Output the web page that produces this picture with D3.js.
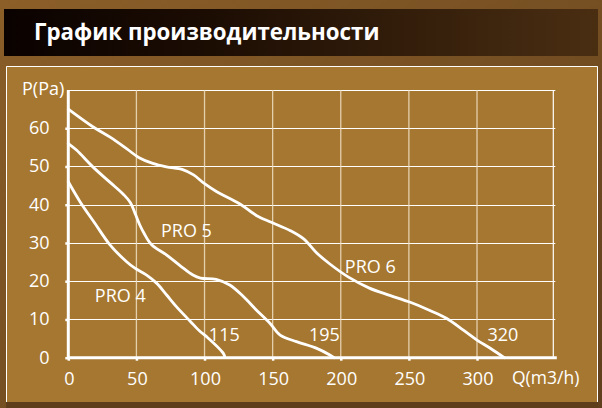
<!DOCTYPE html>
<html>
<head>
<meta charset="utf-8">
<script src="https://cdn.jsdelivr.net/npm/d3@7"></script>
<style>
  html, body { margin: 0; padding: 0; background: #7a5226; }
  svg { display: block; }
  text { font-family: "Open Sans", "Noto Sans", sans-serif; fill: #ffffff; }
</style>
</head>
<body>
<svg id="chart" width="602" height="408"></svg>
<script>
// Fan performance curves: airflow Q (m3/h) vs static pressure P (Pa)
const models = ["PRO 4", "PRO 5", "PRO 6"];
const maxFlow = [115, 195, 320];

const pro4 = [[0,46],[8.6,40.8],[19.6,35.1],[30.6,29.5],[42.8,25.1],[48.9,23.4],[57.5,21.6],[64.8,19.5],[72.2,16.4],[79.5,13.3],[89.3,9.6],[96.6,6.9],[101.5,5.5],[113.7,1.2],[115,0]];
const pro5 = [[0,56],[6,54.3],[18,49.9],[30.5,45.9],[40.5,42.7],[45.5,40.6],[49.5,37.3],[52.5,34.7],[55.5,32.6],[61,29.6],[72,26.9],[82,24.1],[91.5,21.6],[97,20.8],[108.5,20.5],[118.5,19],[128.5,16],[138,12.5],[148,9],[155.5,5.9],[167.5,4.2],[182,2.5],[192,0.7],[195,0]];
const pro6 = [[0,65],[18,60.4],[31,57.6],[43,54.6],[52,52.3],[62,50.8],[72,49.9],[84,49.2],[92,47.8],[100,45.5],[109,43.4],[126,40.2],[138,37.2],[149,35.4],[163,33.2],[173,31],[182,27.5],[192,24.5],[206,21],[221,18.2],[236,16.3],[251,14.5],[265,12.4],[277.5,10.3],[290,7.2],[300,4.6],[310,2.4],[320,0]];

const xTicks = [0, 50, 100, 150, 200, 250, 300];
const yTicks = [0, 10, 20, 30, 40, 50, 60];
const yGrid = [10, 20, 30, 40, 50, 60, 70];

const svg = d3.select("#chart");
const defs = svg.append("defs");

const bgGrad = defs.append("linearGradient").attr("id", "bgGrad")
  .attr("x1", "0").attr("y1", "0").attr("x2", "1").attr("y2", "1");
bgGrad.append("stop").attr("offset", "0").attr("stop-color", "#8c5f28");
bgGrad.append("stop").attr("offset", "1").attr("stop-color", "#5f3f1d");

const titleGrad = defs.append("linearGradient").attr("id", "titleGrad")
  .attr("x1", "0").attr("y1", "0").attr("x2", "1").attr("y2", "0");
titleGrad.append("stop").attr("offset", "0").attr("stop-color", "#0a0200");
titleGrad.append("stop").attr("offset", "0.35").attr("stop-color", "#1c0d03");
titleGrad.append("stop").attr("offset", "1").attr("stop-color", "#4a2e12");

// page background
svg.append("rect").attr("width", 602).attr("height", 408).attr("fill", "url(#bgGrad)");

// title bar
svg.append("rect").attr("x", 4).attr("y", 9).attr("width", 594).attr("height", 47)
  .attr("fill", "url(#titleGrad)");
svg.append("text").attr("x", 34).attr("y", 39.5)
  .attr("font-size", 22.3).attr("font-weight", 700)
  .text("График производительности");

// chart panel
svg.append("rect").attr("x", 6).attr("y", 66).attr("width", 592).attr("height", 336)
  .attr("fill", "#a67730");
svg.append("rect").attr("x", 6).attr("y", 402).attr("width", 592).attr("height", 6)
  .attr("fill", "#5e3d1b");
svg.append("path").attr("d", "M6.5,402V66.5H597.5V402")
  .attr("fill", "none").attr("stroke", "#ffffff").attr("stroke-width", 1);

const x = d3.scaleLinear().domain([0, 356]).range([68.3, 553.3]);
const y = d3.scaleLinear().domain([0, 70]).range([357.7, 90]);

// grid
const grid = svg.append("g");
grid.selectAll("line.h").data(yGrid).join("line")
  .attr("x1", x(0)).attr("x2", x(356) + 2)
  .attr("y1", d => Math.round(y(d)) + 0.5).attr("y2", d => Math.round(y(d)) + 0.5)
  .attr("stroke", "#ffffff").attr("stroke-width", 1.2);
grid.selectAll("line.v").data(xTicks.slice(1)).join("line")
  .attr("x1", d => x(d)).attr("x2", d => x(d))
  .attr("y1", y(70)).attr("y2", y(0))
  .attr("stroke", "#f0dfc4").attr("stroke-opacity", 0.85).attr("stroke-width", 1.3);
grid.append("line")
  .attr("x1", x(356)).attr("x2", x(356)).attr("y1", y(70)).attr("y2", y(0))
  .attr("stroke", "#ffffff").attr("stroke-width", 1.2);

// axes
const xAxis = d3.axisBottom(x).tickValues(xTicks).tickSize(3).tickFormat("");
const yAxis = d3.axisLeft(y).tickValues(yTicks).tickSize(3).tickFormat("");
const gx = svg.append("g").attr("transform", `translate(0,${y(0)})`).call(xAxis);
const gy = svg.append("g").attr("transform", `translate(${x(0)},0)`).call(yAxis);
gx.select(".domain").remove();
gy.select(".domain").remove();
svg.selectAll(".tick line").attr("stroke", "#ffffff").attr("stroke-width", 2.5);
svg.append("line").attr("x1", x(0)).attr("x2", x(356) + 3.5)
  .attr("y1", y(0)).attr("y2", y(0)).attr("stroke", "#ffffff").attr("stroke-width", 3);
svg.append("line").attr("x1", x(0)).attr("x2", x(0))
  .attr("y1", y(70)).attr("y2", y(0) + 1.5).attr("stroke", "#ffffff").attr("stroke-width", 3);

// tick labels
svg.append("g").selectAll("text").data(yTicks).join("text")
  .attr("x", 49.5).attr("y", d => y(d) + 5.8).attr("text-anchor", "end")
  .attr("font-size", 18).text(d => d);
svg.append("g").selectAll("text").data(xTicks).join("text")
  .attr("x", d => x(d) + 1).attr("y", 384.5).attr("text-anchor", "middle")
  .attr("font-size", 18).text(d => d);
svg.append("text").attr("x", 22).attr("y", 95).attr("font-size", 18).text("P(Pa)");
svg.append("text").attr("x", 512).attr("y", 383.5).attr("font-size", 17.5).text("Q(m3/h)");

// curves
const line = d3.line().x(d => x(d[0])).y(d => y(d[1])).curve(d3.curveCatmullRom.alpha(0.5));
svg.append("g").selectAll("path").data([pro4, pro5, pro6]).join("path")
  .attr("d", line).attr("fill", "none").attr("stroke", "#ffffff")
  .attr("stroke-width", 2.8).attr("stroke-linecap", "round");

// model names and max flow labels
const nameAt = [[19.5, 14.6], [68, 31.5], [203, 22.2]];
const flowLabelAt = [114.5, 188, 319];
svg.append("g").selectAll("text").data(models).join("text")
  .attr("x", (d, i) => x(nameAt[i][0])).attr("y", (d, i) => y(nameAt[i][1]))
  .attr("font-size", 18).text(d => d);
svg.append("g").selectAll("text").data(maxFlow).join("text")
  .attr("x", (d, i) => x(flowLabelAt[i])).attr("y", y(4.4)).attr("text-anchor", "middle")
  .attr("font-size", 18).text(d => d);
</script>
</body>
</html>
